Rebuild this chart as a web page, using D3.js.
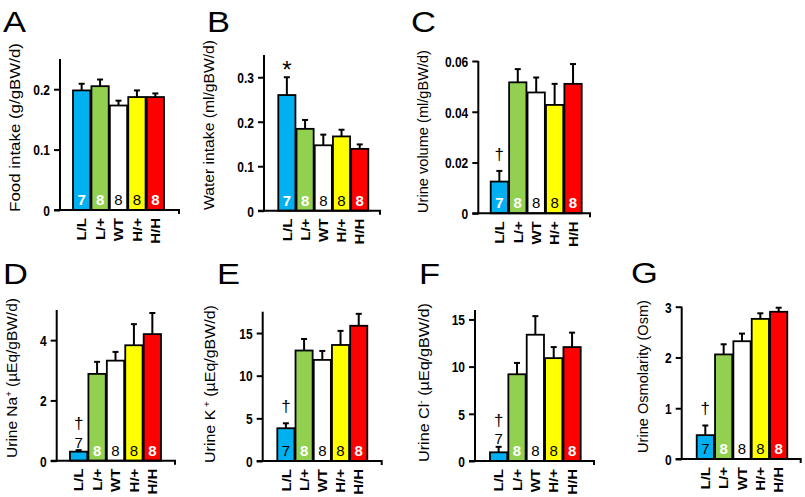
<!DOCTYPE html>
<html><head><meta charset="utf-8">
<script src="https://cdn.jsdelivr.net/npm/d3@7"></script>
<style>body{margin:0;background:#fff}svg{display:block}text{font-family:"Liberation Sans",Arial,sans-serif}</style>
</head><body><svg id="c" width="805" height="497"></svg>
<script>
const categories = ["L/L","L/+","WT","H/+","H/H"];
const sampleN = [7,8,8,8,8];
const barColors = ["#00B0F0","#92D050","#FFFFFF","#FFFF00","#FF0000"];

const foodIntake = [0.198,0.205,0.173,0.187,0.187];
const foodIntakeErr = [0.011,0.011,0.008,0.011,0.006];
const waterIntake = [0.260,0.184,0.147,0.167,0.139];
const waterIntakeErr = [0.040,0.020,0.024,0.015,0.010];
const urineVolume = [0.0125,0.0516,0.0476,0.0427,0.0510];
const urineVolumeErr = [0.0042,0.0052,0.0059,0.0083,0.0078];
const urineNa = [0.30,2.88,3.32,3.83,4.20];
const urineNaErr = [0.05,0.40,0.29,0.70,0.70];
const urineK = [3.84,12.95,11.85,13.60,15.85];
const urineKErr = [0.58,1.35,1.05,1.65,1.40];
const urineCl = [0.92,9.19,13.38,10.90,12.07];
const urineClErr = [0.58,1.20,1.97,1.17,1.53];
const urineOsm = [0.47,2.06,2.32,2.76,2.90];
const urineOsmErr = [0.19,0.20,0.15,0.11,0.08];

const ticksA = [0,0.1,0.2], ticksB = [0,0.1,0.2,0.3], ticksC = [0,0.02,0.04,0.06];
const ticksD = [0,2,4], ticksE = [0,5,10,15], ticksF = [0,5,10,15], ticksG = [0,1,2,3];

const svg = d3.select("#c");

// layout (positions only)
const panels = [
 {letter:"A", title:["Food intake (g/gBW/d)"], values:foodIntake, errs:foodIntakeErr, ticks:ticksA, max:0.25,
  ax:60, top:59, zero:210, b0:73, b1:164, xEnd:179, lx:3, ly:32, t0:43, t1:212, tx:15, mark:null, nStyle:"inW"},
 {letter:"B", title:["Water intake (ml/gBW/d)"], values:waterIntake, errs:waterIntakeErr, ticks:ticksB, max:0.35,
  ax:264, top:55, zero:210.7, b0:278.3, b1:368.3, xEnd:380, lx:207, ly:32, t0:40, t1:210, tx:209, mark:"*", nStyle:"inW"},
 {letter:"C", title:["Urine volume (ml/gBW/d)"], values:urineVolume, errs:urineVolumeErr, ticks:ticksC, max:0.06,
  ax:478.3, top:61, zero:213.3, b0:490.7, b1:581.7, xEnd:590, lx:411, ly:32, t0:50, t1:213, tx:423, mark:"†", nStyle:"inW"},
 {letter:"D", title:["Urine Na","+"," (µEq/gBW/d)"], values:urineNa, errs:urineNaErr, ticks:ticksD, max:5,
  ax:56.7, top:310, zero:460.7, b0:70, b1:161, xEnd:175, lx:3, ly:284, t0:298, t1:458, tx:12, mark:"†", nStyle:"above"},
 {letter:"E", title:["Urine K"," +"," (µEq/gBW/d)"], values:urineK, errs:urineKErr, ticks:ticksE, max:17.5,
  ax:262.7, top:311.7, zero:461, b0:277.3, b1:367.3, xEnd:381.7, lx:217, ly:284, t0:305, t1:463, tx:210, mark:"†", nStyle:"inB"},
 {letter:"F", title:["Urine Cl","-"," (µEq/gBW/d)"], values:urineCl, errs:urineClErr, ticks:ticksF, max:16,
  ax:475, top:310, zero:461, b0:490, b1:580.7, xEnd:594, lx:419, ly:284, t0:303, t1:462, tx:424, mark:"†", nStyle:"above"},
 {letter:"G", title:["Urine Osmolarity (Osm)"], values:urineOsm, errs:urineOsmErr, ticks:ticksG, max:3,
  ax:681.7, top:306.7, zero:459, b0:696.7, b1:787.3, xEnd:800.7, lx:631, ly:283, t0:300, t1:453, tx:643, mark:"†", nStyle:"inB"}
];

const nColors = ["#fff","#fff","#000","#000","#fff"];
const nWeights = ["bold","bold","normal","normal","bold"];

panels.forEach(p => {
  const g = svg.append("g");
  const y = d3.scaleLinear().domain([0,p.max]).range([p.zero,p.top]);
  const x = d3.scaleBand().domain(categories).range([p.b0,p.b1]).paddingInner(0.06);
  const bw = x.bandwidth();

  // panel letter
  g.append("text").attr("transform",`translate(${p.lx},${p.ly}) scale(1.15,1)`)
    .attr("font-size",30).text(p.letter);

  // y title: fit its length to the reference span
  const tc = (p.t0+p.t1)/2, span = p.t1-p.t0;
  const t = g.append("text").attr("text-anchor","middle").attr("dy","0.35em").attr("font-size",16);
  p.title.forEach((s,i) => {
    const ts = t.append("tspan").text(s);
    if (i===1) ts.attr("font-size",10).attr("dy","-0.6em");
    if (i===2) ts.attr("dy","0.38em");
  });
  const len = t.node().getComputedTextLength();
  const fs = 16*span/len;
  t.attr("font-size",fs);
  t.selectAll("tspan").filter((d,i)=>i===1).attr("font-size",fs*0.62);
  const sx = Math.min(1, 15.2/fs);
  t.attr("transform",`translate(${p.tx},${tc}) scale(${sx},1) rotate(-90)`);

  // bars
  g.selectAll("rect.bar").data(p.values).join("rect")
    .attr("x",(d,i)=>x(categories[i])).attr("y",d=>y(d))
    .attr("width",bw).attr("height",d=>p.zero-y(d))
    .attr("fill",(d,i)=>barColors[i]).attr("stroke","#000").attr("stroke-width",1.8);

  // error bars
  p.values.forEach((v,i)=>{
    const cx = x(categories[i]) + bw/2;
    g.append("line").attr("x1",cx).attr("x2",cx).attr("y1",y(v)).attr("y2",y(v+p.errs[i]))
      .attr("stroke","#000").attr("stroke-width",2);
    g.append("line").attr("x1",cx-3).attr("x2",cx+3).attr("y1",y(v+p.errs[i])).attr("y2",y(v+p.errs[i]))
      .attr("stroke","#000").attr("stroke-width",2);
  });

  // n labels
  const errTop0 = y(p.values[0]+p.errs[0]);
  sampleN.forEach((n,i)=>{
    const cx = x(categories[i]) + bw/2;
    let col = nColors[i], wt = nWeights[i], yy = p.zero-5;
    if (i===0) {
      if (p.nStyle==="inB") { col="#000"; wt="normal"; }
      if (p.nStyle==="above") { col="#000"; wt="normal"; yy = errTop0-2.5; }
    }
    g.append("text").attr("x",cx).attr("y",yy).attr("text-anchor","middle")
      .attr("font-size",15).attr("font-weight",wt).attr("fill",col).text(n);
  });

  // significance mark above L/L
  if (p.mark) {
    const cx = x(categories[0]) + bw/2;
    let yy;
    if (p.mark==="*") yy = errTop0 + 1;
    else if (p.nStyle==="above") yy = errTop0 - 21;
    else yy = errTop0 - 11;
    g.append("text").attr("x",cx).attr("y",yy).attr("text-anchor","middle")
      .attr("font-size",p.mark==="*"?24:17).text(p.mark);
  }

  // y axis
  const yAxis = d3.axisLeft(y).tickValues(p.ticks).tickSize(6).tickPadding(4)
    .tickFormat(d=>d===0?"0":String(d));
  const ga = g.append("g").attr("transform",`translate(${p.ax},0)`).call(yAxis);
  ga.select(".domain").remove();
  ga.selectAll(".tick line").attr("stroke","#000").attr("stroke-width",2);
  ga.selectAll(".tick text").attr("x",null).attr("dy",null).attr("text-anchor",null)
    .attr("transform","translate(-10,5.3) scale(0.8,1)")
    .attr("text-anchor","end").attr("font-size",15).attr("font-weight","bold").attr("fill","#000")
    .attr("font-family","Liberation Sans, Arial, sans-serif");
  g.append("line").attr("x1",p.ax).attr("x2",p.ax).attr("y1",p.top).attr("y2",p.zero+1)
    .attr("stroke","#000").attr("stroke-width",2);

  // x axis
  g.append("path").attr("d",`M${p.ax-6},${p.zero}H${p.xEnd}v4`).attr("fill","none")
    .attr("stroke","#000").attr("stroke-width",2);
  categories.forEach((c,i)=>{
    const cx = x(c) + bw/2;
    g.append("text").attr("transform",`translate(${cx},${p.zero+8}) scale(0.88,1) rotate(-90)`)
      .attr("text-anchor","end").attr("dy","0.36em").attr("font-size",15).attr("font-weight","bold").text(c);
  });
});
</script></body></html>
